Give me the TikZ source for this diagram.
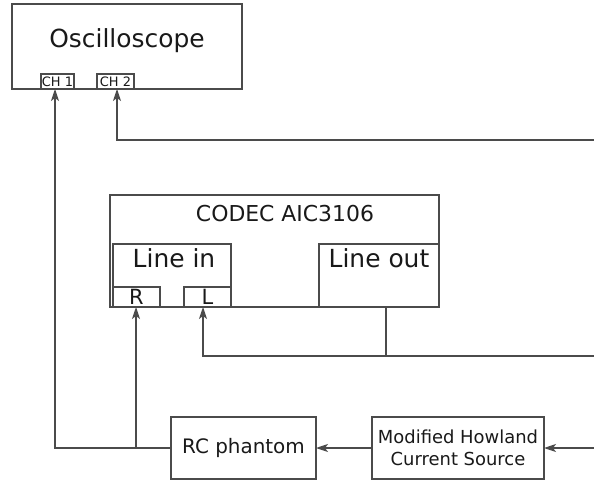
\documentclass[tikz,border=0pt]{standalone}
\usepackage{fontspec}
\setmainfont{DejaVu Sans}
\usepackage{xcolor}
\usetikzlibrary{arrows.meta,positioning}
\definecolor{linegray}{RGB}{75,75,75}
\definecolor{textdark}{RGB}{25,25,25}

\begin{document}
\begin{tikzpicture}[
    x=1bp,y=-1bp,
    box/.style={rectangle,draw=linegray,line width=1.2bp,inner sep=0pt,outer sep=0pt,
                text=textdark,align=center},
    lbl/.style={anchor=base,inner sep=0pt,text=textdark},
    wire/.style={linegray,line width=1.2bp},
    ar/.style={-{Stealth[length=12bp,width=8bp,inset=3bp]},linegray,line width=1.2bp}
  ]
  \useasboundingbox (0,0) rectangle (594,480);

  % oscilloscope
  \node[box,minimum width=230bp,minimum height=85bp] (osc) at (127,46.5) {};
  \node[lbl,font=\fontsize{25}{30}\selectfont] (osctxt) at (127,48) {Oscilloscope};
  \node[box,minimum width=33bp,minimum height=15bp,font=\fontsize{13}{15}\selectfont] (ch1) at (57.5,81.5) {CH 1};
  \node[box,minimum width=37bp,minimum height=15bp,font=\fontsize{13}{15}\selectfont] (ch2) at (115.5,81.5) {CH 2};

  % codec
  \node[box,minimum width=329bp,minimum height=112bp] (codec) at (274.5,251) {};
  \node[lbl,font=\fontsize{22}{26}\selectfont] (codectxt) at (285,222) {CODEC AIC3106};
  \node[box,minimum width=118bp,minimum height=63bp] (linein) at (172,275.5) {};
  \node[lbl,font=\fontsize{25}{30}\selectfont] (lineintxt) at (174,267) {Line in};
  \node[box,minimum width=47bp,minimum height=20bp,font=\fontsize{21}{24}\selectfont] (r) at (136.5,297) {R};
  \node[box,minimum width=47bp,minimum height=20bp,font=\fontsize{21}{24}\selectfont] (l) at (207.5,297) {L};
  \node[box,minimum width=120bp,minimum height=63bp] (lineout) at (379,275.5) {};
  \node[lbl,font=\fontsize{25}{30}\selectfont] (lineouttxt) at (379,267) {Line out};

  % bottom row
  \node[box,minimum width=145bp,minimum height=62bp,font=\fontsize{20}{24}\selectfont] (rc) at (243.5,448) {RC phantom};
  \node[box,minimum width=172bp,minimum height=62bp,font=\fontsize{18}{22}\selectfont] (mh) at (458,448) {Modified Howland\\Current Source};

  % free ends at the right margin
  \coordinate (in2) at (594,140);
  \coordinate (out1) at (594,356);
  \coordinate (in3) at (594,448);

  \draw[ar] (in2) -| ([xshift=1.5bp]ch2.south);
  \draw[ar] (rc.west) -| ([xshift=-2.5bp]ch1.south);
  \draw[ar] ([xshift=-0.5bp]r.south |- rc.west) -- ([xshift=-0.5bp]r.south);
  \draw[ar] (out1) -| ([xshift=-4.5bp]l.south);
  \draw[wire] ([xshift=7bp]lineout.south) -- ([xshift=7bp]lineout.south |- out1);
  \draw[ar] (mh.west) -- (rc.east);
  \draw[ar] (in3) -- (mh.east);
\end{tikzpicture}
\end{document}
